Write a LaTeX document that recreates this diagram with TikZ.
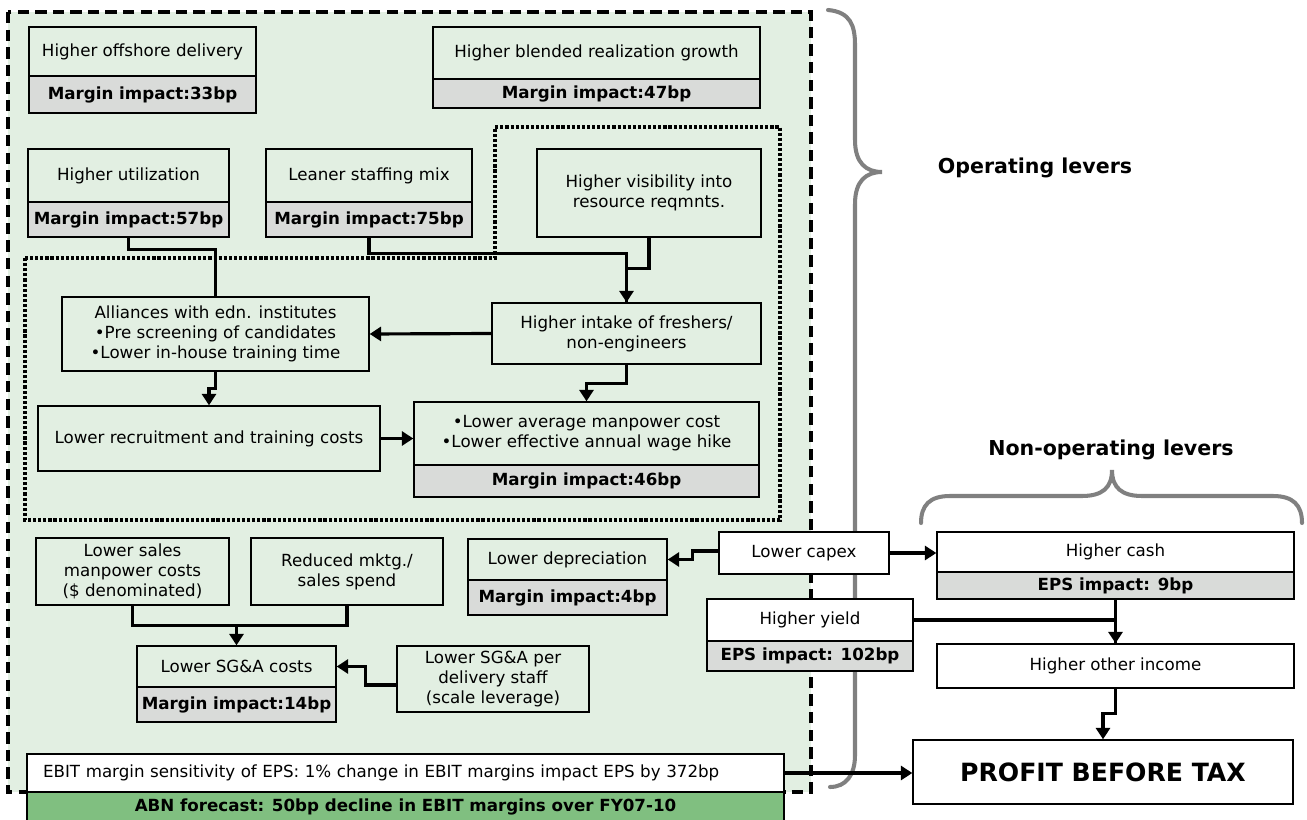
\documentclass[tikz,border=0pt]{standalone}
\usepackage{fontspec}
\setmainfont{DejaVu Sans}
\usetikzlibrary{arrows.meta}
\definecolor{levgreen}{RGB}{226,239,226}
\definecolor{bargray}{RGB}{217,219,217}
\definecolor{abngreen}{RGB}{128,191,128}
\definecolor{bracegray}{RGB}{128,128,128}
\tikzset{
  lever/.style={draw, line width=0.8pt, fill=levgreen, align=center, inner sep=0pt,
    font=\fontsize{9.5}{11.4}\selectfont},
  impact/.style={lever, fill=bargray, font=\fontsize{9.5}{11.4}\selectfont\bfseries},
  plain/.style={lever, fill=white},
  sz/.style 2 args={minimum width=#1*0.02cm, minimum height=#2*0.02cm},
  link/.style={line width=1.8pt, -{Triangle[width=8pt,length=6.5pt]}},
  brace/.style={line width=2.3pt, draw=bracegray, line cap=round},
  levers/.style={font=\fontsize{11.7}{14}\selectfont\bfseries}
}
\begin{document}
\begin{tikzpicture}[x=0.02cm, y=-0.02cm]
  \useasboundingbox (0,0) rectangle (1307,820);
  \draw[fill=levgreen, line width=1.8pt, dash pattern=on 6.5pt off 3.5pt] (8,12) rectangle (811,792);
  \draw[line width=1.8pt, dash pattern=on 1.8pt off 1.1pt]
    (25,258) -- (495,258) -- (495,127) -- (780,127) -- (780,520) -- (25,520) -- cycle;
  \draw[brace] (828,10) .. controls (850,12) and (855,25) .. (855,45) -- (855,140)
    .. controls (855,163) and (866,172) .. (882,172)
    .. controls (866,172) and (855,181) .. (855,204) -- (855,755)
    .. controls (855,775) and (846,787) .. (830,787);
  \draw[brace] (921,523) .. controls (921,505) and (930,496) .. (950,496) -- (1082,496)
    .. controls (1102,496) and (1112,488) .. (1112,470)
    .. controls (1112,488) and (1122,496) .. (1142,496) -- (1273,496)
    .. controls (1293,496) and (1302,505) .. (1302,523);

  \node[lever, sz={227}{49}] (offs) at (142.5,51.5) {Higher offshore delivery};
  \node[impact, sz={227}{37}] (offsb) at (142.5,94.5) {Margin impact:33bp};
  \node[lever, sz={327}{52}] (blend) at (596.5,53) {Higher blended realization growth};
  \node[impact, sz={327}{29}] (blendb) at (596.5,93.5) {Margin impact:47bp};
  \node[lever, sz={201}{53}] (util) at (128.5,175.5) {Higher utilization};
  \node[impact, sz={201}{35}] (utilb) at (128.5,219.5) {Margin impact:57bp};
  \node[lever, sz={206}{53}] (lean) at (369,175.5) {Leaner staffing mix};
  \node[impact, sz={206}{35}] (leanb) at (369,219.5) {Margin impact:75bp};
  \node[lever, sz={224}{88}] (vis) at (649,193) {Higher visibility into\\resource reqmnts.};
  \node[lever, sz={307}{74}] (allia) at (215.5,334)
    {Alliances with edn. institutes\\•Pre screening of candidates\\•Lower in-house training time};
  \node[lever, sz={269}{61}] (intake) at (626.5,333.5) {Higher intake of freshers/\\non-engineers};
  \node[lever, sz={342}{65}] (recr) at (209,438.5) {Lower recruitment and training costs};
  \node[lever, sz={345}{63}] (avg) at (586.5,433.5)
    {•Lower average manpower cost\\•Lower effective annual wage hike};
  \node[impact, sz={345}{32}] (avgb) at (586.5,481) {Margin impact:46bp};
  \node[lever, sz={193}{67}] (sales) at (132.5,571.5) {Lower sales\\manpower costs\\(\$ denominated)};
  \node[lever, sz={192}{67}] (mktg) at (347,571.5) {Reduced mktg./\\sales spend};
  \node[lever, sz={199}{41}] (sga) at (236.5,666.5) {Lower SG\&A costs};
  \node[impact, sz={199}{35}] (sgab) at (236.5,704.5) {Margin impact:14bp};
  \node[lever, sz={192}{66}] (staff) at (493,679) {Lower SG\&A per\\delivery staff\\(scale leverage)};
  \node[lever, sz={199}{41}] (depr) at (567.5,559.5) {Lower depreciation};
  \node[impact, sz={199}{35}] (deprb) at (567.5,597.5) {Margin impact:4bp};

  \node[plain, sz={170}{42}] (capex) at (804,553) {Lower capex};
  \node[plain, sz={357}{40}] (cash) at (1115.5,552) {Higher cash};
  \node[impact, sz={357}{27}] (cashb) at (1115.5,585.5) {EPS impact: 9bp};
  \node[plain, sz={206}{42}] (yield) at (810,620) {Higher yield};
  \node[impact, sz={206}{30}] (yieldb) at (810,656) {EPS impact: 102bp};
  \node[plain, sz={357}{44}] (other) at (1115.5,666) {Higher other income};
  \node[plain, sz={380}{64}, font=\fontsize{14.3}{17}\selectfont\bfseries] (pbt) at (1103,772)
    {PROFIT BEFORE TAX};
  \node[plain, sz={757}{38}, text width=14.5cm, align=left, inner xsep=0.32cm] (ebit) at (405.5,773)
    {EBIT margin sensitivity of EPS: 1\% change in EBIT margins impact EPS by 372bp};
  \node[impact, fill=abngreen, sz={757}{30}] (abn) at (405.5,807)
    {ABN forecast: 50bp decline in EBIT margins over FY07-10};

  \node[levers] (oplab) at (1035,168) {Operating levers};
  \node[levers] (nonoplab) at (1111,450) {Non-operating levers};

  \begin{scope}[link]
    \draw[-] (utilb.south) -- ++(0,12) -| (allia.north);
    \draw[-] (vis.south) -- ++(0,31) -| (intake.north);
    \draw (leanb.south) -- ++(0,16) -| (intake.north);
    \draw (intake.west) -- (allia.east);
    \draw (allia.south) -- ++(0,17) -| (recr.north);
    \draw (intake.south) -- ++(0,19) -| (avg.north);
    \draw (recr.east) -- (recr.east -| avg.west);
    \draw[-] (sales.south) -- ++(0,20) -| (mktg.south);
    \draw (sales.south) ++(0,20) -| (sga.north);
    \draw (staff.west |- 0,685) -- ++(-31,0) |- (sga.east);
    \draw (capex.west |- 0,551) -- ++(-26,0) |- (depr.east);
    \draw (capex.east) -- (capex.east -| cash.west);
    \draw[-] (cashb.south) -- (other.north);
    \draw (yield.east) -| (other.north);
    \draw (other.south) -- ++(0,25) -| (pbt.north);
    \draw (ebit.east) -- (ebit.east -| pbt.west);
  \end{scope}
\end{tikzpicture}
\end{document}
